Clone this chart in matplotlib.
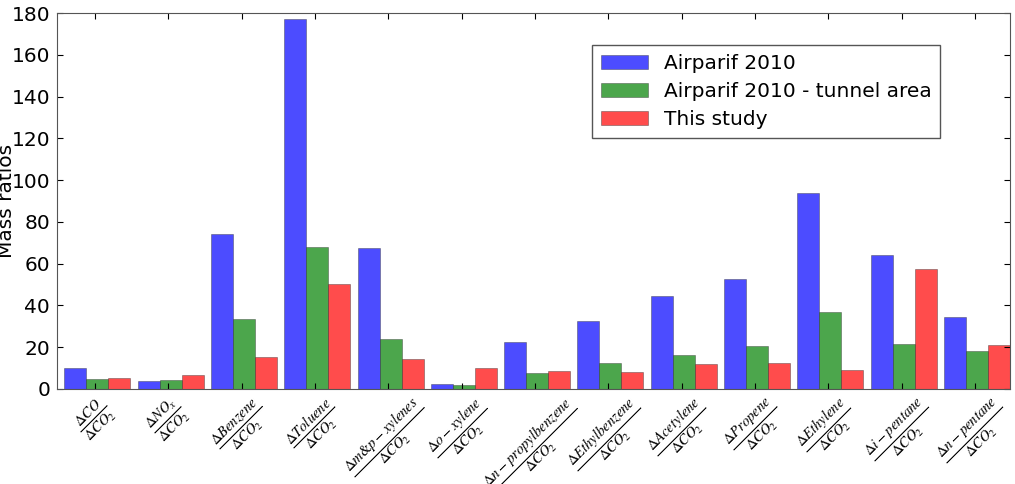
import numpy as np
import matplotlib
matplotlib.use('Agg')
import matplotlib.pyplot as plt

plt.rcParams['mathtext.fontset'] = 'stix'
plt.rcParams['font.family'] = 'DejaVu Sans'

# species ratios
labels = [r'$\frac{\Delta CO}{\Delta CO_2}$',
          r'$\frac{\Delta NO_x}{\Delta CO_2}$',
          r'$\frac{\Delta Benzene}{\Delta CO_2}$',
          r'$\frac{\Delta Toluene}{\Delta CO_2}$',
          r'$\frac{\Delta m&p-xylenes}{\Delta CO_2}$',
          r'$\frac{\Delta o-xylene}{\Delta CO_2}$',
          r'$\frac{\Delta n-propylbenzene}{\Delta CO_2}$',
          r'$\frac{\Delta Ethylbenzene}{\Delta CO_2}$',
          r'$\frac{\Delta Acetylene}{\Delta CO_2}$',
          r'$\frac{\Delta Propene}{\Delta CO_2}$',
          r'$\frac{\Delta Ethylene}{\Delta CO_2}$',
          r'$\frac{\Delta i-pentane}{\Delta CO_2}$',
          r'$\frac{\Delta n-pentane}{\Delta CO_2}$']

airparif = [10, 4, 74, 177, 67.5, 2.5, 22.5, 32.5, 44.5, 52.5, 94, 64, 34.5]
airparif_tunnel = [5, 4.5, 33.5, 68, 24, 2, 7.5, 12.5, 16.5, 20.5, 37, 21.5, 18]
this_study = [5.5, 6.5, 15.5, 50.5, 14.5, 10, 8.5, 8, 12, 12.5, 9, 57.5, 21]

series_names = ['Airparif 2010', 'Airparif 2010 - tunnel area', 'This study']

fig = plt.figure(figsize=(10.15, 4.84), dpi=100)
ax = fig.add_axes([57/1015, 1-389/484, (1010-57)/1015, (389-13)/484])

x = np.arange(len(labels))
w = 0.3
off = 0.1
ax.bar(x + off, airparif, w, align='edge', color='b', alpha=0.7, edgecolor='#333333', lw=0.4, label=series_names[0])
ax.bar(x + off + w, airparif_tunnel, w, align='edge', color='g', alpha=0.7, edgecolor='#333333', lw=0.4, label=series_names[1])
ax.bar(x + off + 2*w, this_study, w, align='edge', color='r', alpha=0.7, edgecolor='#333333', lw=0.4, label=series_names[2])

ax.set_xlim(0, len(labels))
ax.set_ylim(0, 180)
ax.set_yticks(np.arange(0, 181, 20))
ax.set_xticks(x + 0.52)
ax.set_xticklabels(labels, rotation=45, fontsize=15)
ax.tick_params(axis='y', labelsize=14.5, pad=5)
ax.tick_params(direction='in', top=True, right=True, length=4)
ax.set_ylabel('Mass ratios', fontsize=14.5)
ax.yaxis.set_label_coords(-0.043, 0.5)
for s in ax.spines.values():
    s.set_color('#555555')

leg = ax.legend(loc='upper right', bbox_to_anchor=(0.927, 0.915), fontsize=14.5,
                fancybox=False, framealpha=1, handlelength=2.3, borderpad=0.45,
                labelspacing=0.45, borderaxespad=0)
leg.get_frame().set_edgecolor('#555555')

fig.savefig('out.png')
